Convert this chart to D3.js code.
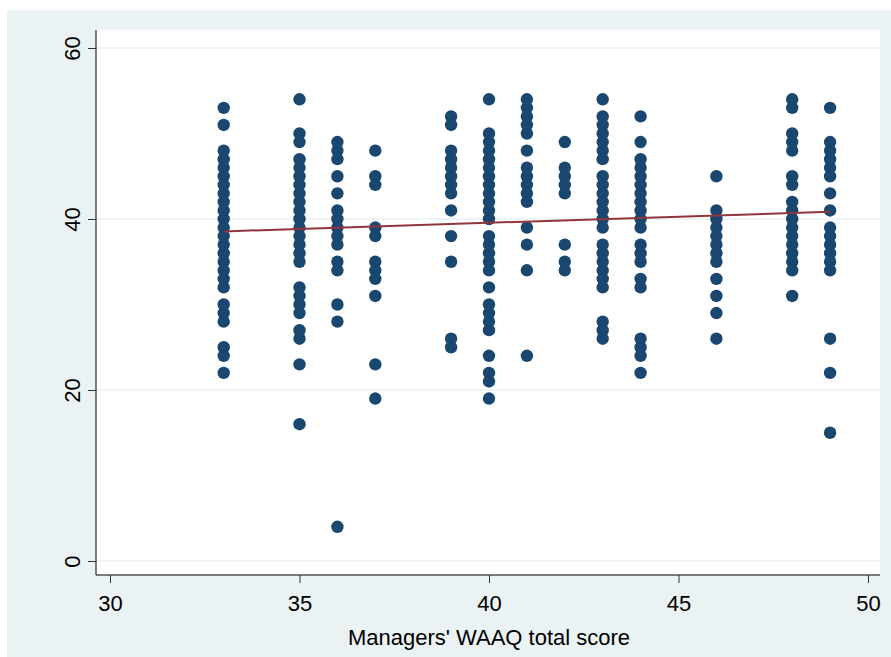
<!DOCTYPE html>
<html><head><meta charset="utf-8">
<script src="https://cdn.jsdelivr.net/npm/d3@7"></script>
<style>html,body{margin:0;padding:0;background:#fff}</style>
</head><body>
<script>
// Data: x value (Managers' WAAQ total score) and the y values observed at each
const xCategories = [33, 35, 36, 37, 39, 40, 41, 42, 43, 44, 46, 48, 49];
const y33 = [53,51,48,47,46,45,44,43,42,41,40,39,38,37,36,35,34,33,32,30,29,28,25,24,22];
const y35 = [54,50,49,47,46,45,44,43,42,41,40,39,38,37,36,35,32,31,30,29,27,26,23,16];
const y36 = [49,48,47,45,43,41,40,39,38,37,35,34,30,28,4];
const y37 = [48,45,44,39,38,35,34,33,31,23,19];
const y39 = [52,51,48,47,46,45,44,43,41,38,35,26,25];
const y40 = [54,50,49,48,47,46,45,44,43,42,41,40,38,37,36,35,34,32,30,29,28,27,24,22,21,19];
const y41 = [54,53,52,51,50,48,46,45,44,43,42,39,37,34,24];
const y42 = [49,46,45,44,43,37,35,34];
const y43 = [54,52,51,50,49,48,47,45,44,43,42,41,40,39,37,36,35,34,33,32,28,27,26];
const y44 = [52,49,47,46,45,44,43,42,41,40,39,37,36,35,33,32,26,25,24,22];
const y46 = [45,41,40,39,38,37,36,35,33,31,29,26];
const y48 = [54,53,50,49,48,45,44,42,41,40,39,38,37,36,35,34,31];
const y49 = [53,49,48,47,46,45,43,41,39,38,37,36,35,34,26,22,15];
const seriesY = [y33,y35,y36,y37,y39,y40,y41,y42,y43,y44,y46,y48,y49];
// Fitted line endpoints
const fitX = [33, 49];
const fitY = [38.55, 40.85];
const xTicks = [30, 35, 40, 45, 50];
const yTicks = [0, 20, 40, 60];
const xTitle = "Managers' WAAQ total score";

(function(){
const W = 891, H = 657;
const svg = d3.select("body").append("svg").attr("width", W).attr("height", H);
svg.append("rect").attr("x", 7).attr("y", 10).attr("width", W - 7).attr("height", H - 10).attr("fill", "#eaf2f3");

const pL = 96, pR = 880, pT = 30, pB = 575;
svg.append("rect").attr("x", pL).attr("y", pT).attr("width", pR - pL).attr("height", pB - pT).attr("fill", "#ffffff");

const x = d3.scaleLinear().domain([30, 50]).range([110, 868]);
const y = d3.scaleLinear().domain([0, 60]).range([561, 48]);

// gridlines
svg.append("g").selectAll("line").data(yTicks).join("line")
  .attr("x1", pL).attr("x2", pR)
  .attr("y1", d => y(d)).attr("y2", d => y(d))
  .attr("stroke", "#eaf2f3").attr("stroke-width", 1.5);

// points
const pts = [];
xCategories.forEach((c, i) => seriesY[i].forEach(v => pts.push([c, v])));
svg.append("g").selectAll("circle").data(pts).join("circle")
  .attr("cx", d => x(d[0])).attr("cy", d => y(d[1])).attr("r", 6.2)
  .attr("fill", "#1a476f");

// fit line
svg.append("line")
  .attr("x1", x(fitX[0])).attr("y1", y(fitY[0]))
  .attr("x2", x(fitX[1])).attr("y2", y(fitY[1]))
  .attr("stroke", "#90353b").attr("stroke-width", 2);

const font = "Liberation Sans, Arial, sans-serif";
const fs = "22px";
// axes
const yAxis = d3.axisLeft(y).tickValues(yTicks).tickSize(8).tickFormat(d3.format("d"));
const gy = svg.append("g").attr("transform", `translate(${pL},0)`).call(yAxis);
gy.select(".domain").attr("d", `M0,${pT}V${pB}`).attr("stroke", "#000");
gy.selectAll(".tick line").attr("stroke", "#333");
gy.selectAll(".tick text")
  .attr("x", 0).attr("y", 0).attr("dy", "0.35em")
  .attr("text-anchor", "middle")
  .attr("transform", "translate(-24,0) rotate(-90)")
  .style("font-family", font).style("font-size", fs).attr("fill", "#000");

const xAxis = d3.axisBottom(x).tickValues(xTicks).tickSize(8).tickPadding(12).tickFormat(d3.format("d"));
const gx = svg.append("g").attr("transform", `translate(0,${pB})`).call(xAxis);
gx.select(".domain").attr("d", `M${pL},0H${pR}`).attr("stroke", "#000");
gx.selectAll(".tick line").attr("stroke", "#333");
gx.selectAll("text").style("font-family", font).style("font-size", fs).attr("fill", "#000");

svg.append("text").attr("x", 489).attr("y", 645).attr("text-anchor", "middle")
  .style("font-family", font).style("font-size", fs).attr("fill", "#000")
  .text(xTitle);
})();
</script>
</body></html>
